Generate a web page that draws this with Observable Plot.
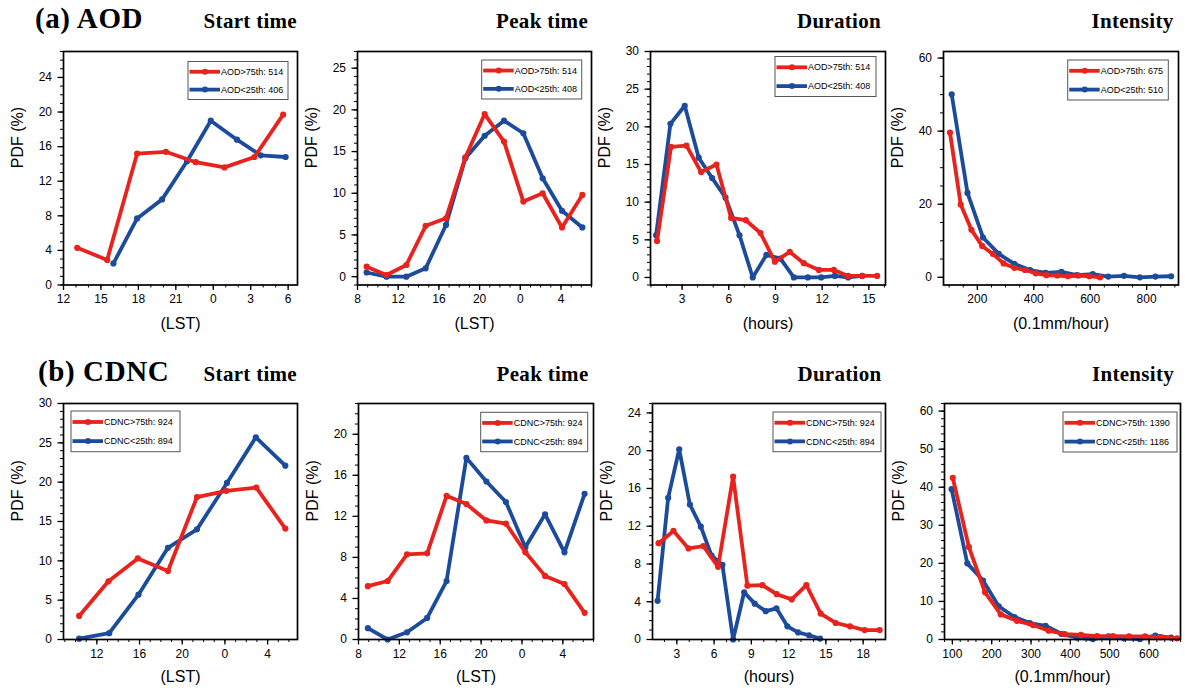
<!DOCTYPE html>
<html><head><meta charset="utf-8">
<script src="https://cdn.jsdelivr.net/npm/d3@7"></script>
<script src="https://cdn.jsdelivr.net/npm/@observablehq/plot@0.6"></script>
<style>
body{margin:0;background:#fff;}
#root{position:relative;width:1185px;height:692px;overflow:hidden;background:#fff;}
.panel{position:absolute;}
#titles{position:absolute;left:0;top:0;}
</style></head><body><div id="root"><svg id="titles" width="1185" height="692"></svg></div>
<script>
// ---------------- DATA ----------------
// (a) AOD — Start time
const aodStartHiX = [13.1, 15.5, 17.9, 20.2, 22.6, 24.9, 27.3, 29.6];
const aodStartHiY = [4.3, 2.9, 15.2, 15.4, 14.2, 13.6, 14.8, 19.7];
const aodStartLoX = [16.0, 17.9, 19.9, 21.9, 23.8, 25.9, 27.8, 29.8];
const aodStartLoY = [2.5, 7.7, 9.9, 14.3, 19.0, 16.8, 15.0, 14.8];
// (a) AOD — Peak time
const aodPeakX   = [8.9, 10.85, 12.8, 14.7, 16.7, 18.6, 20.5, 22.4, 24.3, 26.2, 28.1, 30.1];
const aodPeakHiY = [1.2, 0.2, 1.4, 6.1, 7.0, 14.3, 19.5, 16.2, 9.0, 10.0, 5.9, 9.8];
const aodPeakLoY = [0.5, 0.0, 0.0, 1.0, 6.2, 14.2, 16.9, 18.7, 17.2, 11.8, 7.9, 5.9];
// (a) AOD — Duration
const aodDurHiX = [1.39, 2.29, 3.28, 4.22, 5.21, 6.15, 7.09, 8.04, 8.96, 9.92, 10.82, 11.79, 12.75, 13.67, 14.57, 15.53];
const aodDurHiY = [4.85, 17.35, 17.5, 14.0, 15.0, 7.9, 7.6, 5.9, 2.1, 3.4, 1.9, 1.0, 1.0, 0.2, 0.2, 0.2];
const aodDurLoX = [1.33, 2.25, 3.17, 4.07, 4.93, 5.79, 6.69, 7.54, 8.42, 9.32, 10.18, 11.08, 11.94, 12.81, 13.67, 14.57];
const aodDurLoY = [5.6, 20.4, 22.8, 15.9, 13.2, 10.6, 5.6, 0.0, 3.0, 2.5, 0.0, 0.0, 0.0, 0.2, 0.0, 0.2];
// (a) AOD — Intensity
const aodIntHiX = [103, 141, 179, 217, 255, 293, 331, 369, 407, 445, 483, 521, 559, 597, 635];
const aodIntHiY = [39.6, 19.9, 13.0, 8.6, 6.4, 3.8, 2.6, 2.0, 1.1, 0.6, 0.5, 0.3, 0.5, 0.3, 0.0];
const aodIntLoX = [109, 165, 220, 276, 331, 387, 442, 498, 553, 609, 664, 720, 776, 831, 887];
const aodIntLoY = [50.1, 23.1, 10.9, 6.4, 3.7, 2.0, 1.2, 1.5, 0.6, 0.9, 0.2, 0.4, 0.0, 0.2, 0.3];
// (b) CDNC — Start time
const cdncStartHiX = [10.34, 13.09, 15.84, 18.66, 21.38, 24.13, 26.94, 29.66];
const cdncStartHiY = [3.0, 7.4, 10.3, 8.7, 18.1, 18.9, 19.3, 14.1];
const cdncStartLoX = [10.34, 13.16, 15.9, 18.66, 21.38, 24.19, 26.9, 29.66];
const cdncStartLoY = [0.1, 0.8, 5.7, 11.65, 14.0, 19.9, 25.7, 22.1];
// (b) CDNC — Peak time
const cdncPeakX   = [8.92, 10.85, 12.75, 14.72, 16.62, 18.56, 20.52, 22.43, 24.33, 26.26, 28.16, 30.13];
const cdncPeakHiY = [5.2, 5.7, 8.3, 8.4, 14.0, 13.2, 11.6, 11.3, 8.5, 6.2, 5.4, 2.6];
const cdncPeakLoY = [1.1, 0.0, 0.7, 2.1, 5.7, 17.7, 15.4, 13.4, 9.0, 12.2, 8.5, 14.2];
// (b) CDNC — Duration
const cdncDurHiX = [1.53, 2.73, 3.94, 5.14, 6.32, 7.53, 8.68, 9.89, 11.04, 12.25, 13.43, 14.58, 15.79, 16.94, 18.12, 19.33];
const cdncDurHiY = [10.2, 11.5, 9.65, 9.9, 7.7, 17.25, 5.7, 5.75, 4.8, 4.25, 5.75, 2.75, 1.75, 1.4, 1.0, 1.0];
const cdncDurLoX = [1.45, 2.30, 3.19, 4.05, 4.93, 5.79, 6.67, 7.53, 8.42, 9.27, 10.16, 11.02, 11.9, 12.76, 13.64, 14.53];
const cdncDurLoY = [4.1, 15.0, 20.15, 14.3, 11.95, 8.9, 7.9, 0.0, 5.0, 3.8, 3.0, 3.3, 1.4, 0.75, 0.45, 0.1];
// (b) CDNC — Intensity
const cdncIntHiX = [101, 142, 183, 223, 264, 305, 345, 386, 427, 468, 508, 549, 590, 630, 671];
const cdncIntHiY = [42.5, 24.3, 12.4, 6.6, 4.9, 3.8, 2.3, 1.4, 1.2, 0.9, 0.9, 0.8, 0.8, 0.6, 0.3];
const cdncIntLoX = [98, 138, 178, 218, 258, 297, 337, 377, 417, 457, 497, 536, 576, 616, 656];
const cdncIntLoY = [39.5, 20.0, 15.5, 8.7, 5.9, 4.3, 3.6, 1.5, 0.5, 0.1, 0.8, 0.3, 0.1, 1.0, 0.5];

// Legend labels
const aodStartLabels = ["AOD>75th: 514", "AOD<25th: 406"];
const aodPeakLabels  = ["AOD>75th: 514", "AOD<25th: 408"];
const aodDurLabels   = ["AOD>75th: 514", "AOD<25th: 408"];
const aodIntLabels   = ["AOD>75th: 675", "AOD<25th: 510"];
const cdncLabels     = ["CDNC>75th: 924", "CDNC<25th: 894"];
const cdncIntLabels  = ["CDNC>75th: 1390", "CDNC<25th: 1186"];

// Axis ticks
const aodStartXTicks = [12, 15, 18, 21, 24, 27, 30];
const aodStartYTicks = [0, 4, 8, 12, 16, 20, 24];
const peakXTicks = [8, 12, 16, 20, 24, 28];
const aodPeakYTicks = [0, 5, 10, 15, 20, 25];
const aodDurXTicks = [3, 6, 9, 12, 15];
const aodDurYTicks = [0, 5, 10, 15, 20, 25, 30];
const aodIntXTicks = [200, 400, 600, 800];
const aodIntYTicks = [0, 20, 40, 60];
const cdncStartXTicks = [12, 16, 20, 24, 28];
const cdncStartYTicks = [0, 5, 10, 15, 20, 25, 30];
const cdncPeakYTicks = [0, 4, 8, 12, 16, 20];
const cdncDurXTicks = [3, 6, 9, 12, 15, 18];
const cdncDurYTicks = [0, 4, 8, 12, 16, 20, 24];
const cdncIntXTicks = [100, 200, 300, 400, 500, 600];
const cdncIntYTicks = [0, 10, 20, 30, 40, 50, 60];

// ---------------- STYLE / LAYOUT ----------------
const RED = "#e8221c", BLUE = "#1d4b9c";
const SANS = "'Liberation Sans', Arial, Helvetica, sans-serif";
const SERIF = "'Liberation Serif', 'Times New Roman', serif";
const rng = (a, b, s) => d3.range(a, b + 1e-9, s);

const panels = [
  {frame:[63,50.5,234,233.5], xd:[12,30.75], xt:aodStartXTicks, xm:rng(12,30,1), hour:true, yd:[0,27], yt:aodStartYTicks, ym:rng(0,27,1),
   hi:[aodStartHiX,aodStartHiY], lo:[aodStartLoX,aodStartLoY], xl:"(LST)", labels:aodStartLabels, lg:{side:"right",gap:9,top:10.5,w:100,h:38}, xlOff:39},
  {frame:[357,50.5,234,233.5], xd:[8,31], xt:peakXTicks, xm:rng(8,31,1), hour:true, yd:[-1,27], yt:aodPeakYTicks, ym:rng(-1,27,1),
   hi:[aodPeakX,aodPeakHiY], lo:[aodPeakX,aodPeakLoY], xl:"(LST)", labels:aodPeakLabels, lg:{side:"right",gap:9.3,top:9,w:100,h:39}, xlOff:39},
  {frame:[650,50.5,235,233.5], xd:[0.97,16.07], xt:aodDurXTicks, xm:rng(1,16,1), yd:[-1,30], yt:aodDurYTicks, ym:rng(-1,30,1),
   hi:[aodDurHiX,aodDurHiY], lo:[aodDurLoX,aodDurLoY], xl:"(hours)", labels:aodDurLabels, lg:{side:"right",gap:9,top:5.5,w:101,h:40}, xlOff:39},
  {frame:[943,50.5,235,233.5], xd:[80,913], xt:aodIntXTicks, xm:rng(100,900,50), yd:[-2.1,61.8], yt:aodIntYTicks, ym:rng(0,60,5),
   hi:[aodIntHiX,aodIntHiY], lo:[aodIntLoX,aodIntLoY], xl:"(0.1mm/hour)", labels:aodIntLabels, lg:{side:"right",gap:9.7,top:9,w:100.6,h:40}, xlOff:39},
  {frame:[63,403.3,234,236], xd:[8.875,30.8], xt:cdncStartXTicks, xm:rng(9,30,1), hour:true, yd:[0,30], yt:cdncStartYTicks, ym:rng(0,30,1),
   hi:[cdncStartHiX,cdncStartHiY], lo:[cdncStartLoX,cdncStartLoY], xl:"(LST)", labels:cdncLabels, lg:{side:"left",gap:8,top:8,w:109,h:40.7}, xlOff:37},
  {frame:[358,403.3,235,236], xd:[8,31], xt:peakXTicks, xm:rng(8,31,1), hour:true, yd:[0,23], yt:cdncPeakYTicks, ym:rng(0,23,1),
   hi:[cdncPeakX,cdncPeakHiY], lo:[cdncPeakX,cdncPeakLoY], xl:"(LST)", labels:cdncLabels, lg:{side:"right",gap:5.3,top:9.3,w:107,h:39.4}, xlOff:37},
  {frame:[652,403.3,233,236], xd:[1.04,19.8], xt:cdncDurXTicks, xm:rng(2,19,1), yd:[0,25], yt:cdncDurYTicks, ym:rng(0,25,1),
   hi:[cdncDurHiX,cdncDurHiY], lo:[cdncDurLoX,cdncDurLoY], xl:"(hours)", labels:cdncLabels, lg:{side:"right",gap:4,top:9,w:108,h:39.7}, xlOff:37},
  {frame:[944,403.3,236,236], xd:[80,680], xt:cdncIntXTicks, xm:rng(80,680,20), yd:[0,62], yt:cdncIntYTicks, ym:rng(0,62,2),
   hi:[cdncIntHiX,cdncIntHiY], lo:[cdncIntLoX,cdncIntLoY], xl:"(0.1mm/hour)", labels:cdncIntLabels, lg:{side:"right",gap:3,top:9,w:114,h:40}, xlOff:37},
];

const root = document.getElementById("root");
const mL = 60, mR = 6, mT = 6, mB = 56;

for (const p of panels) {
  const [fl, ft, fw, fh] = p.frame;
  const toRows = ([xs, ys]) => xs.map((x, i) => ({x, y: ys[i]}));
  const hi = toRows(p.hi), lo = toRows(p.lo);
  const fmt = p.hour ? (d => String(d % 24)) : (d => String(d));
  const svg = Plot.plot({
    width: fw + mL + mR, height: fh + mT + mB,
    marginLeft: mL, marginRight: mR, marginTop: mT, marginBottom: mB,
    style: {fontFamily: SANS, fontSize: "12px", color: "#000", background: "transparent", overflow: "visible"},
    x: {domain: p.xd},
    y: {domain: p.yd},
    marks: [
      Plot.axisX(p.xm, {tickSize: 3, tickFormat: () => "", label: null, strokeWidth: 1}),
      Plot.axisX(p.xt, {tickSize: 5.5, tickPadding: 4, tickFormat: fmt, label: null, fontSize: 12, strokeWidth: 1.3}),
      Plot.axisY(p.ym, {tickSize: 3, tickFormat: () => "", label: null, strokeWidth: 1}),
      Plot.axisY(p.yt, {tickSize: 5.5, tickPadding: 6, label: null, fontSize: 12, strokeWidth: 1.3}),
      Plot.line(lo, {x: "x", y: "y", stroke: BLUE, strokeWidth: 3.8}),
      Plot.dot(lo, {x: "x", y: "y", r: 3.1, fill: BLUE}),
      Plot.line(hi, {x: "x", y: "y", stroke: RED, strokeWidth: 3.8}),
      Plot.dot(hi, {x: "x", y: "y", r: 3.1, fill: RED}),
      Plot.frame({stroke: "#000", strokeWidth: 1.7}),
      Plot.text([p.xl], {text: d => d, frameAnchor: "bottom", lineAnchor: "middle", dy: p.xlOff, fontSize: 16}),
      Plot.text(["PDF (%)"], {text: d => d, frameAnchor: "left", rotate: -90, dx: -46, fontSize: 16})
    ]
  });
  svg.classList.add("panel");
  svg.style.left = (fl - mL) + "px";
  svg.style.top = (ft - mT) + "px";
  root.appendChild(svg);

  // legend box inside the frame
  const lg = p.lg;
  const bx = lg.side === "right" ? mL + fw - lg.gap - lg.w : mL + lg.gap;
  const by = mT + lg.top;
  const g = d3.select(svg).append("g").attr("font-family", SANS).attr("font-size", 9).attr("text-anchor", "start");
  g.append("rect").attr("x", bx).attr("y", by).attr("width", lg.w).attr("height", lg.h)
    .attr("fill", "#fff").attr("stroke", "#555").attr("stroke-width", 1);
  const cols = [RED, BLUE];
  [0.27, 0.74].forEach((f, i) => {
    const yy = by + lg.h * f;
    g.append("line").attr("x1", bx + 1.5).attr("x2", bx + 32).attr("y1", yy).attr("y2", yy)
      .attr("stroke", cols[i]).attr("stroke-width", 3.8);
    g.append("circle").attr("cx", bx + 17).attr("cy", yy).attr("r", 3).attr("fill", cols[i]);
    g.append("text").attr("x", bx + 33).attr("y", yy).attr("dy", "0.35em").attr("text-anchor", "start")
      .attr("fill", "#000").text(p.labels[i]);
  });
}

// titles
const T = d3.select("#titles");
const titles = [
  {t: "(a) AOD", x: 35, y: 28, anchor: "start", size: 29, ls: 0.6},
  {t: "Start time", x: 297, y: 28, anchor: "end", size: 21, ls: 0.3},
  {t: "Peak time", x: 588, y: 28, anchor: "end", size: 21, ls: 0.3},
  {t: "Duration", x: 881, y: 28, anchor: "end", size: 21, ls: 0.3},
  {t: "Intensity", x: 1173.5, y: 28, anchor: "end", size: 21, ls: 0.3},
  {t: "(b) CDNC", x: 38, y: 381, anchor: "start", size: 29, ls: 0.6},
  {t: "Start time", x: 297, y: 381, anchor: "end", size: 21, ls: 0.3},
  {t: "Peak time", x: 588.5, y: 381, anchor: "end", size: 21, ls: 0.3},
  {t: "Duration", x: 881.5, y: 381, anchor: "end", size: 21, ls: 0.3},
  {t: "Intensity", x: 1174, y: 381, anchor: "end", size: 21, ls: 0.3},
];
for (const d of titles) {
  T.append("text").attr("x", d.x).attr("y", d.y).attr("text-anchor", d.anchor)
    .attr("font-family", SERIF).attr("font-weight", "bold").attr("font-size", d.size)
    .attr("letter-spacing", d.ls + "px").attr("fill", "#000").text(d.t);
}
</script></body></html>
